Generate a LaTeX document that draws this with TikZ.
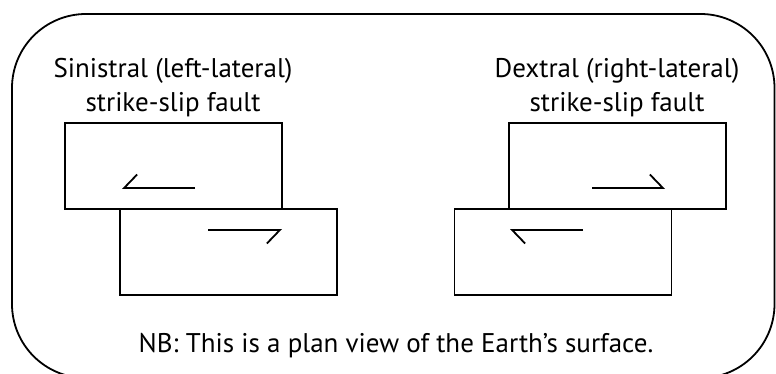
\documentclass[tikz,border=0pt]{standalone}
\usepackage{fontspec}
\setmainfont{PT Sans}
\usetikzlibrary{arrows.meta}

\begin{document}
\begin{tikzpicture}[
  x=1pt, y=-1pt,
  line width=1.8pt,
  font=\fontsize{27}{34}\selectfont,
  block/.style={draw, minimum width=217pt, minimum height=86pt, inner sep=0pt},
  title/.style={align=center, inner sep=0pt},
  slip/.style={-{Straight Barb[#1, length=13pt, width=27pt, line width=1.8pt]}},
]
\useasboundingbox (0,0) rectangle (776,374);
% outer frame
\draw[rounded corners=74pt] (12,14) rectangle (774.5,378);
% sinistral
\node[title] (sintitle) at (173,88) {Sinistral (left-lateral)\\strike-slip fault};
\node[block] (sinup) at (173.5,166) {};
\node[block] (sinlow) at (228.5,252) {};
\coordinate (sa1) at (195,188);
\coordinate (sa2) at (122,188);
\coordinate (sb1) at (208,230);
\coordinate (sb2) at (282,230);
\draw[slip=right] (sa1) -- (sa2);
\draw[slip=right] (sb1) -- (sb2);
% dextral
\node[title] (dextitle) at (617,88) {Dextral (right-lateral)\\strike-slip fault};
\node[block] (dexup) at (617.5,166) {};
\node[block] (dexlow) at (563,252) {};
\coordinate (da1) at (592,188);
\coordinate (da2) at (665,188);
\coordinate (db1) at (583,230);
\coordinate (db2) at (510,230);
\draw[slip=left] (da1) -- (da2);
\draw[slip=left] (db1) -- (db2);
% note
\node[title, anchor=base] (note) at (396,352) {NB: This is a plan view of the Earth’s surface.};
\end{tikzpicture}
\end{document}
